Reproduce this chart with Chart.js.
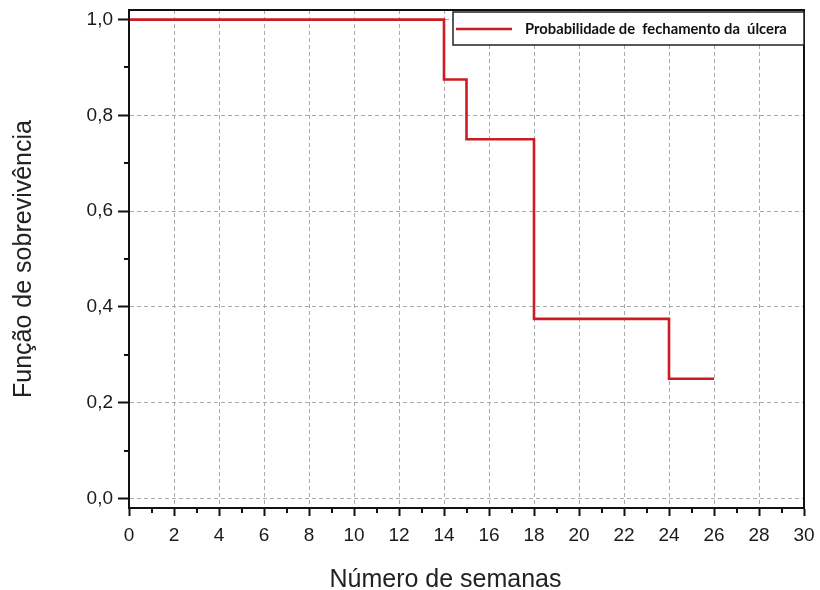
<!DOCTYPE html>
<html>
<head>
<meta charset="utf-8">
<title>Função de sobrevivência</title>
<script src="https://cdn.jsdelivr.net/npm/chart.js@4.4.1/dist/chart.umd.min.js"></script>
<style>
  html, body { margin: 0; padding: 0; background: #fff; }
  #wrap { width: 820px; height: 590px; }
</style>
</head>
<body>
<div id="wrap"><canvas id="km" width="820" height="590"></canvas></div>
<script>
// Kaplan-Meier estimate: time (weeks) and survival probability
const weeks = [0, 14, 15, 18, 24, 26];
const survival = [1.0, 0.875, 0.75, 0.375, 0.25, 0.25];

// axis ticks
const xMajorTicks = [0, 2, 4, 6, 8, 10, 12, 14, 16, 18, 20, 22, 24, 26, 28, 30];
const xMinorTicks = [1, 3, 5, 7, 9, 11, 13, 15, 17, 19, 21, 23, 25, 27, 29];
const yMajorTicks = [0.0, 0.2, 0.4, 0.6, 0.8, 1.0];
const yMinorTicks = [0.1, 0.3, 0.5, 0.7, 0.9];

const seriesLabel = 'Probabilidade de  fechamento da  úlcera';
const xTitle = 'Número de semanas';
const yTitle = 'Função de sobrevivência';

const commaFmt = v => (Math.abs(v) < 1e-9 ? 0 : v).toFixed(1).replace('.', ',');

// frame, minor ticks, axis titles and the legend box
const decorations = {
  id: 'decorations',
  afterDraw(chart) {
    const { ctx, chartArea: a, scales } = chart;
    const xs = scales.x, ys = scales.y;
    ctx.save();

    // minor tick marks
    ctx.strokeStyle = '#111';
    ctx.lineWidth = 2;
    ctx.beginPath();
    xMinorTicks.forEach(v => {
      const px = Math.round(xs.getPixelForValue(v));
      ctx.moveTo(px, a.bottom);
      ctx.lineTo(px, a.bottom + 5);
    });
    yMinorTicks.forEach(v => {
      const py = Math.round(ys.getPixelForValue(v));
      ctx.moveTo(a.left - 5, py);
      ctx.lineTo(a.left, py);
    });
    ctx.stroke();

    // plot frame
    ctx.lineWidth = 2;
    ctx.strokeStyle = '#111';
    ctx.strokeRect(a.left, a.top, a.right - a.left, a.bottom - a.top);

    // legend box
    const lx = 453, ly = a.top + 2, lw = a.right - 453, lh = 33;
    ctx.fillStyle = '#fff';
    ctx.fillRect(lx, ly, lw, lh);
    ctx.lineWidth = 1.5;
    ctx.strokeStyle = '#222';
    ctx.strokeRect(lx, ly, lw, lh);
    const ds = chart.data.datasets[0];
    ctx.strokeStyle = ds.borderColor;
    ctx.lineWidth = 2.5;
    ctx.beginPath();
    ctx.moveTo(lx + 3, ly + 17);
    ctx.lineTo(lx + 59, ly + 17);
    ctx.stroke();
    ctx.fillStyle = '#111';
    ctx.font = 'bold 13px Lato';
    const w13 = ctx.measureText(ds.label).width;
    const fs = 13 * 262 / w13;
    ctx.font = 'bold ' + fs.toFixed(2) + 'px Lato';
    ctx.textBaseline = 'middle';
    ctx.textAlign = 'left';
    ctx.fillText(ds.label, lx + 72, ly + 17);

    // axis titles
    ctx.fillStyle = '#222';
    ctx.font = '25px "Liberation Sans"';
    ctx.textAlign = 'center';
    ctx.textBaseline = 'alphabetic';
    ctx.fillText(xTitle, (a.left + a.right) / 2 - 21, 587);

    ctx.translate(24, (a.top + a.bottom) / 2);
    ctx.rotate(-Math.PI / 2);
    ctx.textBaseline = 'middle';
    ctx.fillText(yTitle, 0, 0);
    ctx.restore();
  }
};

new Chart(document.getElementById('km'), {
  type: 'line',
  data: {
    datasets: [{
      label: seriesLabel,
      data: weeks.map((t, i) => ({ x: t, y: survival[i] })),
      stepped: 'before',
      borderColor: '#cc1c22',
      borderWidth: 2.6,
      pointRadius: 0,
      fill: false
    }]
  },
  options: {
    responsive: false,
    animation: false,
    layout: { padding: { top: 10, right: 16, left: 0, bottom: 0 } },
    plugins: { legend: { display: false }, tooltip: { enabled: false } },
    scales: {
      x: {
        type: 'linear',
        min: 0,
        max: 30,
        afterFit(s) { s.height = 82; s.paddingLeft = 0; s.paddingRight = 0; },
        afterBuildTicks(s) { s.ticks = xMajorTicks.map(v => ({ value: v })); },
        ticks: {
          color: '#1a1a1a',
          font: { family: '"Liberation Sans"', size: 19 },
          padding: 8,
          maxRotation: 0,
          callback: v => String(v)
        },
        grid: {
          color: '#a9a9a9',
          lineWidth: 1,
          tickLength: 8,
          tickColor: '#111',
          tickWidth: 2,
          tickBorderDash: []
        },
        border: { display: true, color: '#111', width: 2, dash: [4, 3] }
      },
      y: {
        type: 'linear',
        min: -0.02,
        max: 1.02,
        afterFit(s) { s.width = 129; s.paddingTop = 0; s.paddingBottom = 0; },
        afterBuildTicks(s) { s.ticks = yMajorTicks.map(v => ({ value: v })); },
        ticks: {
          color: '#1a1a1a',
          font: { family: '"Liberation Sans"', size: 19 },
          padding: 5,
          callback: v => commaFmt(v)
        },
        grid: {
          color: '#a9a9a9',
          lineWidth: 1,
          tickLength: 11,
          tickColor: '#111',
          tickWidth: 2,
          tickBorderDash: []
        },
        border: { display: true, color: '#111', width: 2, dash: [4, 3] }
      }
    }
  },
  plugins: [decorations]
});
</script>
</body>
</html>
